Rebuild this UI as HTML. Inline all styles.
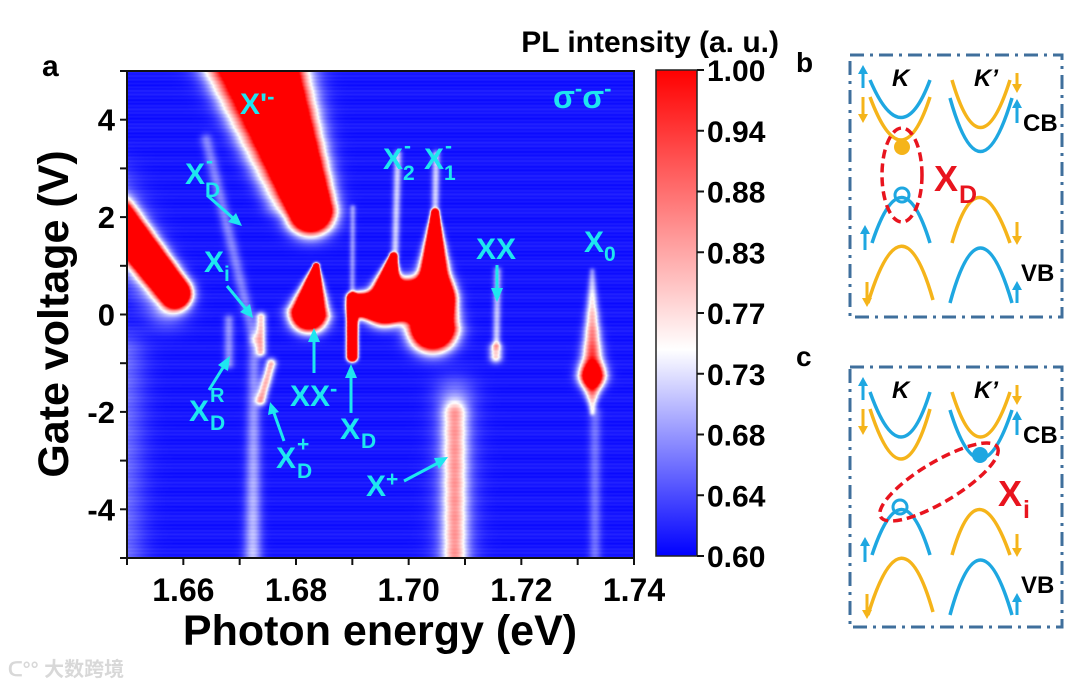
<!DOCTYPE html>
<html><head><meta charset="utf-8"><style>
html,body{margin:0;padding:0;background:#fff;width:1080px;height:689px;overflow:hidden}
#heat{position:absolute;left:127px;top:71px}
svg{position:absolute;left:0;top:0}
text{font-family:"Liberation Sans",Arial,sans-serif;font-weight:bold}
</style></head><body>
<canvas id="heat" width="507" height="487"></canvas>
<svg width="1080" height="689" viewBox="0 0 1080 689">
<defs>
<linearGradient id="cbg" x1="0" y1="1" x2="0" y2="0">
<stop offset="0" stop-color="#0000ff"/><stop offset="0.425" stop-color="#ffffff"/><stop offset="1" stop-color="#ff0000"/>
</linearGradient>
</defs>
<text x="42" y="76" font-size="30">a</text>
<g id="axes"></g>
<text transform="translate(68,314) rotate(-90)" text-anchor="middle" font-size="43">Gate voltage (V)</text>
<text x="380" y="645" text-anchor="middle" font-size="43">Photon energy (eV)</text>
<text x="779" y="52" text-anchor="end" font-size="30">PL intensity (a. u.)</text>
<rect x="656" y="70" width="41" height="486" fill="url(#cbg)" stroke="#222" stroke-width="1.5"/>
<g id="cbticks"></g>

<g fill="#1ee6f0" stroke="#1ee6f0" font-size="30">
<text x="240" y="114" stroke="none">X'<tspan dy="-10" font-size="22">-</tspan></text>
<text x="553" y="108" stroke="none" font-size="32">σ<tspan dy="-12" font-size="22">-</tspan><tspan dy="12">σ</tspan><tspan dy="-12" font-size="22">-</tspan></text>
<text x="185" y="184" stroke="none">X<tspan x="206" y="168" font-size="21">-</tspan><tspan x="205" y="197" font-size="21">D</tspan></text>
<line x1="208" y1="196" x2="234" y2="219" stroke-width="3"/><polygon points="242,226 228,222 236,213" stroke="none"/>
<text x="204" y="272" stroke="none">X<tspan x="224" y="281" font-size="21">i</tspan></text>
<line x1="227" y1="286" x2="246" y2="309" stroke-width="3"/><polygon points="253,318 240,312 250,304" stroke="none"/>
<text x="189" y="421" stroke="none">X<tspan x="210" y="402" font-size="20">R</tspan><tspan x="210" y="430" font-size="21">D</tspan></text>
<line x1="209" y1="390" x2="224" y2="366" stroke-width="3"/><polygon points="230,356 228,371 218,365" stroke="none"/>
<text x="276" y="468" stroke="none">X<tspan x="297" y="451" font-size="21">+</tspan><tspan x="297" y="478" font-size="21">D</tspan></text>
<line x1="284" y1="441" x2="274" y2="413" stroke-width="3"/><polygon points="270,402 279,412 268,415" stroke="none"/>
<text x="290" y="406" stroke="none">XX<tspan dy="-10" font-size="22">-</tspan></text>
<line x1="314" y1="373" x2="314" y2="340" stroke-width="3"/><polygon points="314,328 320,342 308,342" stroke="none"/>
<text x="340" y="439" stroke="none">X<tspan x="361" y="448" font-size="21">D</tspan></text>
<line x1="351" y1="413" x2="351" y2="376" stroke-width="3"/><polygon points="351,364 357,378 345,378" stroke="none"/>
<text x="366" y="496" stroke="none">X<tspan dy="-10" font-size="21">+</tspan></text>
<line x1="404" y1="481" x2="438" y2="463" stroke-width="3"/><polygon points="448,457 439,469 434,458" stroke="none"/>
<text x="476" y="259" stroke="none">XX</text>
<line x1="497" y1="265" x2="497" y2="290" stroke-width="3"/><polygon points="497,302 491,288 503,288" stroke="none"/>
<text x="584" y="252" stroke="none">X<tspan x="604" y="261" font-size="21">0</tspan></text>
<text x="383" y="169" stroke="none">X<tspan x="404" y="153" font-size="21">-</tspan><tspan x="403" y="180" font-size="21">2</tspan></text>
<text x="424" y="169" stroke="none">X<tspan x="445" y="153" font-size="21">-</tspan><tspan x="444" y="180" font-size="21">1</tspan></text>
</g>

<text x="796" y="72" font-size="28">b</text>
<text x="796" y="366" font-size="28">c</text>

<g transform="translate(850,55)">
<rect x="0" y="0" width="212" height="262" fill="none" stroke="#3f6f9c" stroke-width="3" stroke-dasharray="14,6,3,6"/>
<text x="42" y="31" font-size="24" font-style="italic">K</text>
<text x="124" y="31" font-size="24" font-style="italic">K’</text>
<g fill="none" stroke-width="3.5">
<path d="M20,25 Q52,100 80,25" stroke="#1ea7e1"/>
<path d="M20,42 Q52,128 80,42" stroke="#f5b41a"/>
<path d="M102,25 Q130,120 160,25" stroke="#f5b41a"/>
<path d="M100,43 Q130,150 162,43" stroke="#1ea7e1"/>
<path d="M22,188 Q52,97 80,188" stroke="#1ea7e1"/>
<path d="M18,248 Q52,136 83,245" stroke="#f5b41a"/>
<path d="M102,188 Q128,97 160,188" stroke="#f5b41a"/>
<path d="M100,248 Q130,138 162,248" stroke="#1ea7e1"/>
</g>
<g stroke-width="3">
<line x1="13" y1="33" x2="13" y2="16" stroke="#1ea7e1"/><polygon points="13,10 8,19 18,19" fill="#1ea7e1"/>
<line x1="13" y1="42" x2="13" y2="62" stroke="#f5b41a"/><polygon points="13,68 8,59 18,59" fill="#f5b41a"/>
<line x1="15" y1="195" x2="15" y2="176" stroke="#1ea7e1"/><polygon points="15,170 10,179 20,179" fill="#1ea7e1"/>
<line x1="17" y1="227" x2="17" y2="246" stroke="#f5b41a"/><polygon points="17,252 12,243 22,243" fill="#f5b41a"/>
<line x1="167" y1="18" x2="167" y2="32" stroke="#f5b41a"/><polygon points="167,38 162,29 172,29" fill="#f5b41a"/>
<line x1="167" y1="68" x2="167" y2="50" stroke="#1ea7e1"/><polygon points="167,44 162,53 172,53" fill="#1ea7e1"/>
<line x1="167" y1="167" x2="167" y2="184" stroke="#f5b41a"/><polygon points="167,190 162,181 172,181" fill="#f5b41a"/>
<line x1="167" y1="248" x2="167" y2="232" stroke="#1ea7e1"/><polygon points="167,226 162,235 172,235" fill="#1ea7e1"/>
</g>
<text x="173" y="76" font-size="24">CB</text>
<text x="171" y="226" font-size="24">VB</text>
<circle cx="52" cy="92" r="8" fill="#f5b41a"/>
<circle cx="52" cy="140" r="7" fill="none" stroke="#1ea7e1" stroke-width="3"/>
<ellipse cx="52" cy="120" rx="20" ry="47" fill="none" stroke="#e8141e" stroke-width="3.5" stroke-dasharray="9,5"/>
<text x="84" y="136" font-size="36" fill="#e8141e">X<tspan x="109" y="148" font-size="25">D</tspan></text>
</g>

<g transform="translate(850,367)">
<rect x="0" y="0" width="212" height="260" fill="none" stroke="#3f6f9c" stroke-width="3" stroke-dasharray="14,6,3,6"/>
<text x="42" y="31" font-size="24" font-style="italic">K</text>
<text x="124" y="31" font-size="24" font-style="italic">K’</text>
<g fill="none" stroke-width="3.5">
<path d="M20,25 Q52,115 80,25" stroke="#1ea7e1"/>
<path d="M20,42 Q52,142 80,42" stroke="#f5b41a"/>
<path d="M102,25 Q130,115 160,25" stroke="#f5b41a"/>
<path d="M100,43 Q130,140 162,43" stroke="#1ea7e1"/>
<path d="M22,188 Q52,97 80,188" stroke="#1ea7e1"/>
<path d="M18,248 Q52,136 83,245" stroke="#f5b41a"/>
<path d="M102,188 Q128,97 160,188" stroke="#f5b41a"/>
<path d="M100,248 Q130,138 162,248" stroke="#1ea7e1"/>
</g>
<g stroke-width="3">
<line x1="13" y1="33" x2="13" y2="16" stroke="#1ea7e1"/><polygon points="13,10 8,19 18,19" fill="#1ea7e1"/>
<line x1="13" y1="42" x2="13" y2="62" stroke="#f5b41a"/><polygon points="13,68 8,59 18,59" fill="#f5b41a"/>
<line x1="15" y1="195" x2="15" y2="176" stroke="#1ea7e1"/><polygon points="15,170 10,179 20,179" fill="#1ea7e1"/>
<line x1="17" y1="227" x2="17" y2="246" stroke="#f5b41a"/><polygon points="17,252 12,243 22,243" fill="#f5b41a"/>
<line x1="167" y1="18" x2="167" y2="32" stroke="#f5b41a"/><polygon points="167,38 162,29 172,29" fill="#f5b41a"/>
<line x1="167" y1="68" x2="167" y2="50" stroke="#1ea7e1"/><polygon points="167,44 162,53 172,53" fill="#1ea7e1"/>
<line x1="167" y1="167" x2="167" y2="184" stroke="#f5b41a"/><polygon points="167,190 162,181 172,181" fill="#f5b41a"/>
<line x1="167" y1="248" x2="167" y2="232" stroke="#1ea7e1"/><polygon points="167,226 162,235 172,235" fill="#1ea7e1"/>
</g>
<text x="173" y="76" font-size="24">CB</text>
<text x="171" y="226" font-size="24">VB</text>
<circle cx="130" cy="88" r="8" fill="#1ea7e1"/>
<circle cx="50" cy="140" r="7" fill="none" stroke="#1ea7e1" stroke-width="3"/>
<ellipse cx="89" cy="115" rx="68" ry="20" transform="rotate(-31 89 115)" fill="none" stroke="#e8141e" stroke-width="3.5" stroke-dasharray="9,5"/>
<text x="148" y="139" font-size="36" fill="#e8141e">X<tspan x="173" y="151" font-size="25">i</tspan></text>
</g>
<text x="8" y="676" font-size="20" fill="#d8d8d8" font-weight="normal" style="font-family:'Liberation Sans','Noto Sans CJK SC',sans-serif">ᑕ°° 大数跨境</text>
</svg>
<script>
// heatmap features (data): segment endpoints in (eV, V), widths (px), amplitudes
const featE1=[1.6715,1.664,1.648,1.645,1.664,1.6725,1.6737,1.6755,1.668,1.6835,1.6899,1.690,1.6972,1.7046,1.6915,1.698,1.7048,1.7157,1.7154,1.7081,1.7081,1.7325,1.7325,1.733,1.649,1.6985];
const featV1=[5.8,5.5,2.0,2.5,3.6,-0.5,-0.05,-1.0,-0.1,1.0,0.35,2.2,1.2,2.1,0.2,3.3,3.3,0.9,-0.7,-2.0,-1.7,0.9,-1.25,-2.0,-0.8,0.35];
const featE2=[1.6825,1.676,1.6585,1.657,1.6725,1.6722,1.6737,1.6737,1.668,1.6822,1.6899,1.6899,1.6955,1.7042,1.700,1.6975,1.7046,1.7155,1.7154,1.7081,1.7081,1.7325,1.7325,1.733,1.649,1.7045];
const featV2=[2.15,2.3,0.45,0.2,-0.5,-5.5,-0.75,-1.75,-1.0,0.05,-0.85,0.4,0.2,-0.25,0.15,1.2,2.0,-0.6,-0.85,-5.6,-5.6,-1.25,-2.0,-5.5,-5.5,0.35];
const featW1=[34,16,14,28,6,6,5,5,5,2.5,4,3,3,3,9,4,4,4,6,11,20,3,11,6,22,14];
const featW2=[18,12,12,20,6,9,5,5,5,14,4,3,14,18,9,4,4,4,6,11,20,11,3,6,22,14];
const featA1=[1.5,0.1,1.5,0.12,0.07,0.07,0.2,0.22,0.08,1.5,1.5,0.08,1.5,1.5,1.5,0.12,0.12,0.1,0.2,0.17,0.08,0.08,0.4,0.06,0.06,1.5];
const featA2=[1.5,0.06,1.5,0.1,0.07,0.12,0.2,0.22,0.08,1.5,1.5,0.08,1.5,1.5,1.5,0.12,0.12,0.12,0.2,0.17,0.08,0.4,0.1,0.06,0.06,1.5];
const xTicks=[1.66,1.68,1.70,1.72,1.74];
const yTicks=[-4,-2,0,2,4];
const cbLabels=["1.00","0.94","0.88","0.83","0.77","0.73","0.68","0.64","0.60"];
const E0=1.65,E1=1.74,V0=-5,V1=5,PL=127,PT=71,PW=507,PH=487;
function sx(e){return PL+(e-E0)/(E1-E0)*PW;}
function sy(v){return PT+(V1-v)/(V1-V0)*PH;}
function cmap(v){v=Math.max(0.6,Math.min(1,v));let t;
 if(v<0.77){t=(v-0.6)/0.17;return [255*t,255*t,255];}
 t=(v-0.77)/0.23;return [255,255*(1-t),255*(1-t)];}
(function(){
 const c=document.getElementById('heat'),ctx=c.getContext('2d');
 const img=ctx.createImageData(PW,PH),d=img.data;
 const segs=featE1.map((_,i)=>({x1:sx(featE1[i])-PL,y1:sy(featV1[i])-PT,x2:sx(featE2[i])-PL,y2:sy(featV2[i])-PT,w1:featW1[i],w2:featW2[i],a1:featA1[i],a2:featA2[i]}));
 for(let y=0;y<PH;y++){
  const stripe=0.006*Math.sin(y*1.7)+0.004*Math.sin(y*0.37);
  for(let x=0;x<PW;x++){
   let v=0.615+stripe;
   for(const s of segs){
    const dx=s.x2-s.x1,dy=s.y2-s.y1,L=dx*dx+dy*dy;
    let t=L?((x-s.x1)*dx+(y-s.y1)*dy)/L:0;t=Math.max(0,Math.min(1,t));
    const px=s.x1+t*dx-x,py=s.y1+t*dy-y,dd=px*px+py*py;
    const w=s.w1+t*(s.w2-s.w1),a=s.a1+t*(s.a2-s.a1);
    if(dd<16*w*w)v+=a*Math.exp(-dd/(w*w));
   }
   const col=cmap(v),k=(y*PW+x)*4;
   d[k]=col[0];d[k+1]=col[1];d[k+2]=col[2];d[k+3]=255;
  }}
 ctx.putImageData(img,0,0);
})();
const NS='http://www.w3.org/2000/svg';
function mk(tag,attrs,parent){const el=document.createElementNS(NS,tag);for(const k in attrs)el.setAttribute(k,attrs[k]);parent.appendChild(el);return el;}
(function(){
 const g=document.getElementById('axes');
 const fr=mk('rect',{x:PL,y:PT,width:PW,height:PH,fill:'none',stroke:'#111','stroke-width':2},g);
 
 
 for(let e=1.65;e<=1.7401;e+=0.01){const x=sx(e);mk('line',{x1:x,y1:PT+PH,x2:x,y2:PT+PH+7,stroke:'#111','stroke-width':2},g);}
 for(let v=-5;v<=5;v++){const y=sy(v);mk('line',{x1:PL,y1:y,x2:PL-7,y2:y,stroke:'#111','stroke-width':2},g);}
 xTicks.forEach(e=>{const t=mk('text',{x:sx(e),y:PT+PH+43,'text-anchor':'middle','font-size':32},g);t.textContent=e.toFixed(2);
  
  });
 yTicks.forEach(v=>{const t=mk('text',{x:PL-12,y:sy(v)+11,'text-anchor':'end','font-size':31},g);t.textContent=v;
  
  });
 const cg=document.getElementById('cbticks');
 cbLabels.forEach((lab,i)=>{const y=70+i*486/8;
  mk('line',{x1:697,y1:y,x2:704,y2:y,stroke:'#111','stroke-width':2},cg);
  const t=mk('text',{x:707,y:y+11,'font-size':30},cg);t.textContent=lab;
  
  });
})();
</script>
</body></html>
